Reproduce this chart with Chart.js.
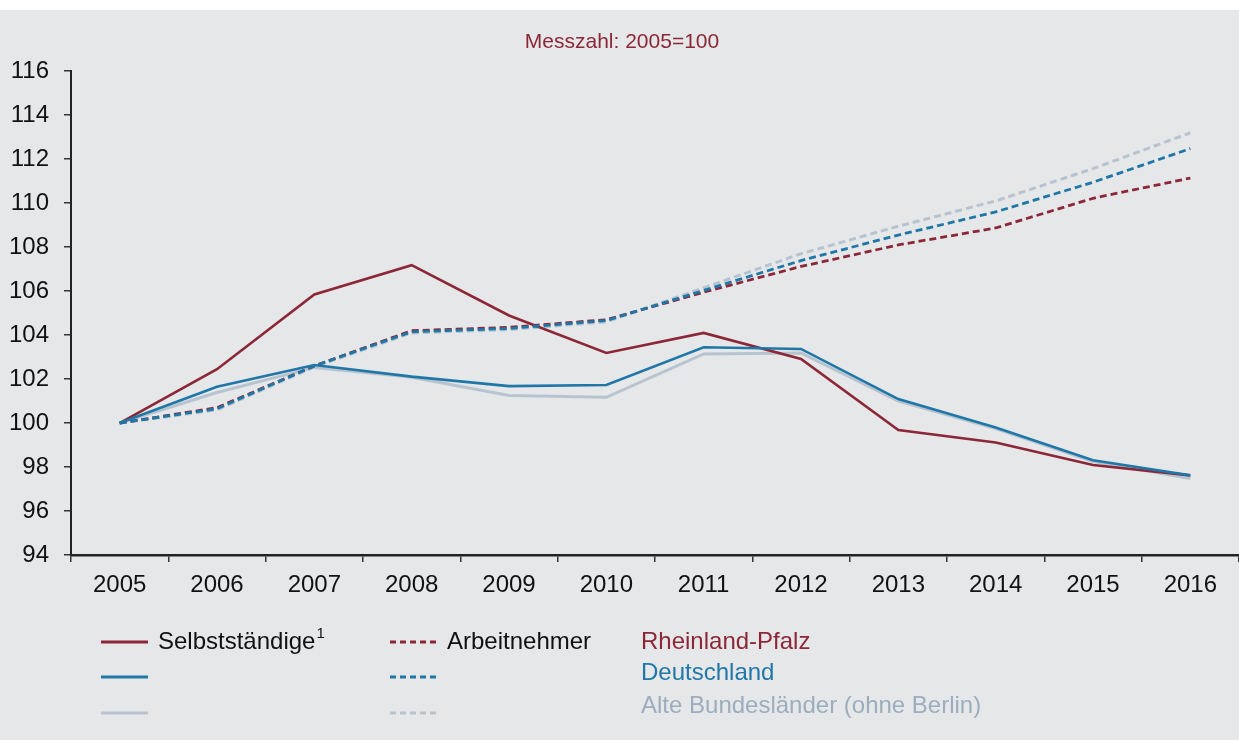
<!DOCTYPE html>
<html>
<head>
<meta charset="utf-8">
<script src="https://cdn.jsdelivr.net/npm/chart.js@4"></script>
<style>
  html, body { margin: 0; padding: 0; background: #ffffff; overflow: hidden; }
  #chart { display: block; }
</style>
</head>
<body>
<canvas id="chart" width="1239" height="740"></canvas>
<script>
const years = ['2005', '2006', '2007', '2008', '2009', '2010', '2011', '2012', '2013', '2014', '2015', '2016'];

// Selbstständige
const selbstRP  = [100, 102.45, 105.85, 107.18, 104.89, 103.19, 104.10, 102.91, 99.68, 99.12, 98.09, 97.62];
const selbstDE  = [100, 101.65, 102.64, 102.11, 101.68, 101.73, 103.45, 103.37, 101.09, 99.80, 98.31, 97.62];
const selbstABL = [100, 101.39, 102.53, 102.08, 101.25, 101.17, 103.14, 103.19, 101.00, 99.75, 98.25, 97.48];

// Arbeitnehmer
const arbRP  = [100, 100.70, 102.60, 104.20, 104.35, 104.70, 105.95, 107.12, 108.10, 108.87, 110.22, 111.14];
const arbDE  = [100, 100.65, 102.60, 104.15, 104.30, 104.66, 106.03, 107.39, 108.55, 109.60, 110.95, 112.48];
const arbABL = [100, 100.60, 102.55, 104.10, 104.25, 104.60, 106.15, 107.70, 108.95, 110.10, 111.57, 113.20];

const regionLabels = ['Rheinland-Pfalz', 'Deutschland', 'Alte Bundesländer (ohne Berlin)'];

// Farben
const red = '#8c2738';
const blue = '#1f77a8';
const grey = '#b7c4d0';
const greyText = '#9badbe';
const bg = '#e6e7e8';
const dash = [7, 4];
const fontFamily = '"Liberation Sans", Arial, sans-serif';

// Hintergrund mit weissem Streifen oben
const backgroundPlugin = {
    id: 'bgPlugin',
    beforeDraw(chart) {
        const ctx = chart.ctx;
        ctx.save();
        ctx.fillStyle = bg;
        ctx.fillRect(0, 10, chart.width, chart.height - 10);
        ctx.restore();
    }
};

// Legende im Stil der Vorlage
const legendPlugin = {
    id: 'customLegend',
    afterDraw(chart) {
        const ctx = chart.ctx;
        const lineRows = [642, 677, 713];
        const textRows = [642, 673, 706];
        const lineColors = [red, blue, grey];
        const textColors = [red, blue, greyText];
        ctx.save();
        ctx.lineWidth = 3;
        lineRows.forEach((y, i) => {
            ctx.strokeStyle = lineColors[i];
            ctx.setLineDash([]);
            ctx.beginPath();
            ctx.moveTo(101, y);
            ctx.lineTo(148, y);
            ctx.stroke();
            ctx.setLineDash([6, 4]);
            ctx.beginPath();
            ctx.moveTo(390, y);
            ctx.lineTo(437, y);
            ctx.stroke();
        });
        ctx.setLineDash([]);
        ctx.textBaseline = 'middle';
        ctx.textAlign = 'left';
        ctx.font = '24px ' + fontFamily;
        ctx.fillStyle = '#111111';
        ctx.fillText('Selbstständige', 158, textRows[0]);
        const w = ctx.measureText('Selbstständige').width;
        ctx.font = '15px ' + fontFamily;
        ctx.fillText('1', 158 + w + 1, textRows[0] - 8);
        ctx.font = '24px ' + fontFamily;
        ctx.fillText('Arbeitnehmer', 447, textRows[0]);
        regionLabels.forEach((label, i) => {
            ctx.fillStyle = textColors[i];
            ctx.fillText(label, 641, textRows[i]);
        });
        ctx.restore();
    }
};

const ctx = document.getElementById('chart').getContext('2d');
new Chart(ctx, {
    type: 'line',
    data: {
        labels: years,
        datasets: [
            { label: 'Selbstständige Deutschland', data: selbstDE, borderColor: blue, borderWidth: 2.6 },
            { label: 'Arbeitnehmer Deutschland', data: arbDE, borderColor: blue, borderWidth: 2.8, borderDash: dash },
            { label: 'Selbstständige Rheinland-Pfalz', data: selbstRP, borderColor: red, borderWidth: 2.6 },
            { label: 'Arbeitnehmer Rheinland-Pfalz', data: arbRP, borderColor: red, borderWidth: 2.8, borderDash: dash },
            { label: 'Selbstständige Alte Bundesländer', data: selbstABL, borderColor: grey, borderWidth: 3 },
            { label: 'Arbeitnehmer Alte Bundesländer', data: arbABL, borderColor: grey, borderWidth: 3, borderDash: dash }
        ]
    },
    options: {
        responsive: false,
        animation: false,
        layout: {
            padding: { top: 0, left: 0, right: -5, bottom: 145 }
        },
        elements: {
            point: { radius: 0, hoverRadius: 0 },
            line: { tension: 0, fill: false }
        },
        plugins: {
            legend: { display: false },
            tooltip: { enabled: false },
            title: {
                display: true,
                text: 'Messzahl: 2005=100',
                color: red,
                font: { family: fontFamily, size: 21, weight: 'normal' },
                padding: { top: 30, bottom: 16 }
            }
        },
        scales: {
            x: {
                offset: true,
                grid: {
                    offset: true,
                    drawOnChartArea: false,
                    tickLength: 7,
                    color: '#333333',
                    lineWidth: 1.5
                },
                border: { display: true, color: '#222222', width: 2.5 },
                ticks: {
                    color: '#111111',
                    padding: 9,
                    font: { family: fontFamily, size: 24 }
                },
                afterFit(scale) { scale.height = 40; }
            },
            y: {
                min: 94,
                max: 116,
                grid: {
                    drawOnChartArea: false,
                    tickLength: 7,
                    color: '#333333',
                    lineWidth: 1.5
                },
                border: { display: true, color: '#222222', width: 2 },
                ticks: {
                    stepSize: 2,
                    color: '#111111',
                    padding: 15,
                    font: { family: fontFamily, size: 24 }
                },
                afterFit(scale) { scale.width = 71; }
            }
        }
    },
    plugins: [backgroundPlugin, legendPlugin]
});
</script>
</body>
</html>
